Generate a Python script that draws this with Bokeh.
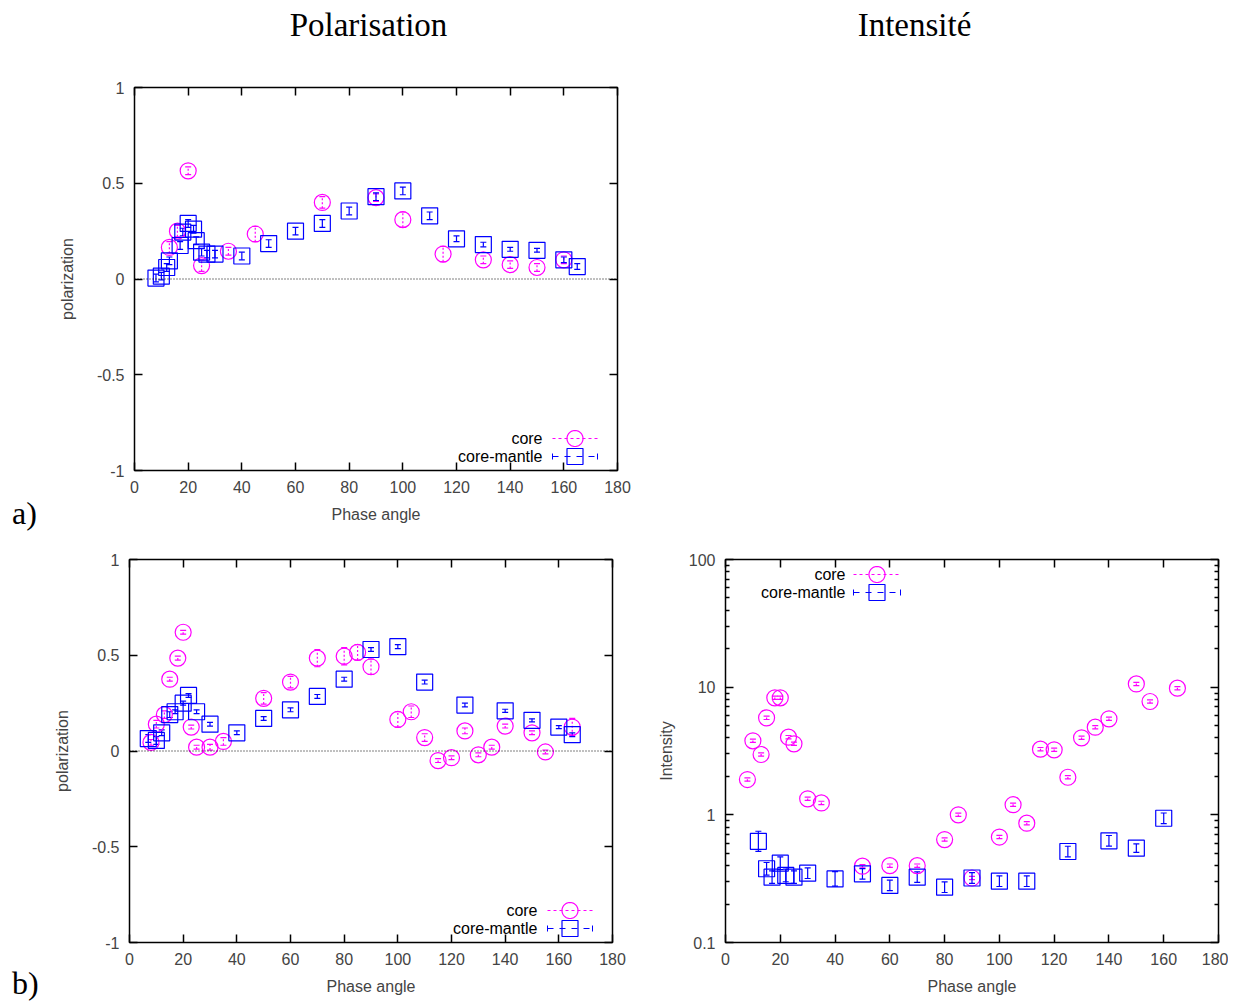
import numpy as np
from bokeh.plotting import figure
from bokeh.models import (Range1d, LinearAxis, LogAxis, FixedTicker, CustomJSTickFormatter,
                          Span, Label, Arrow, PolyAnnotation, Whisker, TeeHead, ColumnDataSource, Div)
from bokeh.core.properties import value
from bokeh.layouts import column, row
from bokeh.embed import file_html
from bokeh.resources import INLINE

SANS = "Liberation Sans"
SERIF = "Liberation Serif"
MAGENTA = "#ff00ff"
BLUE = "#0000ff"

# ---------------- data ----------------
x_ticks = [0, 20, 40, 60, 80, 100, 120, 140, 160, 180]
pol_ticks = [-1, -0.5, 0, 0.5, 1]
int_ticks = [0.1, 1, 10, 100]
int_minor = [2, 3, 4, 5, 6, 7, 8, 9]

titles = ["Polarisation", "Intensité"]
panel_tags = ["a)", "b)"]

# panel a) polarization
a_core_x = [13, 16, 20, 25, 35, 45, 70, 90, 100, 115, 130, 140, 150, 160]
a_core_y = [0.165, 0.25, 0.565, 0.07, 0.145, 0.235, 0.40, 0.425, 0.31, 0.13, 0.10, 0.075, 0.06, 0.10]
a_core_e = [0.03, 0.03, 0.02, 0.03, 0.02, 0.04, 0.03, 0.02, 0.04, 0.04, 0.02, 0.02, 0.02, 0.02]

a_cm_x = [8, 10, 12, 13, 17, 18, 20, 22, 23, 25, 27, 30, 40, 50, 60, 70, 80, 90, 100, 110, 120, 130, 140, 150, 160, 165]
a_cm_y = [0.005, 0.015, 0.06, 0.095, 0.175, 0.245, 0.29, 0.26, 0.20, 0.14, 0.13, 0.13, 0.12, 0.185,
          0.25, 0.29, 0.355, 0.43, 0.46, 0.33, 0.21, 0.18, 0.155, 0.15, 0.10, 0.065]
a_cm_e = [0.02, 0.02, 0.02, 0.02, 0.02, 0.02, 0.02, 0.02, 0.02, 0.02, 0.02, 0.02, 0.02, 0.02,
          0.02, 0.02, 0.02, 0.02, 0.02, 0.02, 0.015, 0.012, 0.01, 0.01, 0.015, 0.015]

# panel b) polarization
b_core_x = [8, 10, 13, 15, 18, 20, 23, 25, 30, 35, 50, 60, 70, 80, 85, 90, 100, 105, 110, 115, 120,
            125, 130, 135, 140, 150, 155, 165]
b_core_y = [0.045, 0.14, 0.19, 0.375, 0.485, 0.62, 0.125, 0.02, 0.02, 0.05, 0.275, 0.36, 0.485, 0.495,
            0.515, 0.44, 0.165, 0.205, 0.07, -0.05, -0.035, 0.105, -0.02, 0.02, 0.13, 0.095, -0.005, 0.125]
b_core_e = [0.015, 0.02, 0.02, 0.01, 0.01, 0.01, 0.01, 0.01, 0.015, 0.02, 0.03, 0.03, 0.045, 0.045,
            0.04, 0.04, 0.04, 0.03, 0.02, 0.01, 0.01, 0.015, 0.01, 0.01, 0.01, 0.01, 0.01, 0.045]

b_cm_x = [7, 10, 12, 15, 17, 20, 22, 25, 30, 40, 50, 60, 70, 80, 90, 100, 110, 125, 140, 150, 160, 165]
b_cm_y = [0.065, 0.055, 0.095, 0.19, 0.205, 0.25, 0.29, 0.205, 0.14, 0.095, 0.17, 0.215, 0.285, 0.375,
          0.53, 0.545, 0.36, 0.24, 0.21, 0.16, 0.125, 0.085]
b_cm_e = [0.02, 0.02, 0.015, 0.015, 0.01, 0.01, 0.01, 0.01, 0.01, 0.01, 0.01, 0.01, 0.01, 0.01,
          0.01, 0.01, 0.01, 0.01, 0.008, 0.008, 0.008, 0.01]

# panel b) intensity
c_core_x = [8, 10, 13, 15, 18, 20, 23, 25, 30, 35, 50, 60, 70, 80, 85, 90, 100, 105, 110, 115, 120,
            125, 130, 135, 140, 150, 155, 165]
c_core_y = [1.89, 3.8, 2.97, 5.75, 8.25, 8.25, 4.06, 3.6, 1.335, 1.24, 0.396, 0.40, 0.40, 0.64, 1.0,
            0.32, 0.67, 1.2, 0.86, 3.27, 3.23, 1.97, 4.01, 4.86, 5.65, 10.6, 7.72, 9.82]
c_core_e = [0.03] * 28

c_cm_x = [12, 15, 17, 20, 22, 25, 30, 40, 50, 60, 70, 80, 90, 100, 110, 125, 140, 150, 160]
c_cm_y = [0.62, 0.378, 0.325, 0.418, 0.335, 0.325, 0.349, 0.315, 0.345, 0.28, 0.325, 0.271, 0.32,
          0.302, 0.302, 0.516, 0.626, 0.548, 0.94]
c_cm_e = [0.2, 0.12, 0.12, 0.12, 0.12, 0.12, 0.1, 0.14, 0.1, 0.1, 0.1, 0.1, 0.1, 0.1, 0.1, 0.1, 0.1,
          0.08, 0.1]

# ---------------- helpers ----------------
FMT = "return tick.toString();"
NOFMT = "return '';"


def style_axis(ax, ticks, minor=None, show=True):
    ax.ticker = FixedTicker(ticks=ticks, minor_ticks=minor or [])
    ax.formatter = CustomJSTickFormatter(code=FMT if show else NOFMT)
    ax.axis_line_color = None
    ax.major_tick_in = 8
    ax.major_tick_out = 0
    ax.major_tick_line_color = "black"
    ax.major_tick_line_width = 1.5
    if minor:
        ax.minor_tick_in = 4
        ax.minor_tick_out = 0
        ax.minor_tick_line_color = "black"
        ax.minor_tick_line_width = 1.5
    else:
        ax.minor_tick_line_color = None
    ax.major_label_text_font = SANS
    ax.major_label_text_font_size = "16px"
    ax.major_label_standoff = 10 if show else 0
    ax.axis_label_text_font = SANS
    ax.axis_label_text_font_size = "16px"
    ax.axis_label_text_font_style = "normal"


def make_fig(yr, ytype, bl, br, bt, bb, fw=483, fh=383):
    p = figure(x_range=Range1d(0, 180), y_range=yr, y_axis_type=ytype,
               frame_width=fw, frame_height=fh,
               min_border_left=bl, min_border_right=br, min_border_top=bt, min_border_bottom=bb,
               output_backend="svg", toolbar_location=None)
    p.grid.visible = False
    p.outline_line_color = "black"
    p.outline_line_width = 1.5
    p.outline_line_alpha = 1
    return p


def text_fig(w, h, xs, ys_down, texts, size, align):
    """Plain canvas in pixel units that only carries texts (ys measured from the top)."""
    f = figure(frame_width=w, frame_height=h, x_range=Range1d(0, w), y_range=Range1d(0, h),
               title=None, x_axis_location=None, y_axis_location=None,
               min_border=0, min_border_left=0, min_border_right=0,
               min_border_top=0, min_border_bottom=0,
               output_backend="svg", toolbar_location=None)
    f.grid.visible = False
    f.outline_line_color = None
    f.text(x=xs, y=[h - y for y in ys_down], text=texts, text_font=value(SERIF),
           text_font_size=value(size), text_align=align, text_baseline="middle",
           text_color="black")
    return f


def tag_div(txt, w, h, pad_top):
    html = (f'<div style="padding-top:{pad_top}px;padding-left:12px;font-family:\'{SERIF}\';'
            f'font-size:32px;line-height:34px;color:black;white-space:nowrap;">{txt}</div>')
    return Div(text=html, width=w, height=h, margin=0)


def add_series(p, xs, ys, es, color, marker, dash, log=False):
    if log:
        up = [y * (1 + e) for y, e in zip(ys, es)]
        lo = [y / (1 + e) for y, e in zip(ys, es)]
    else:
        up = [y + e for y, e in zip(ys, es)]
        lo = [y - e for y, e in zip(ys, es)]
    src = ColumnDataSource(dict(x=xs, y=ys, up=up, lo=lo))
    p.add_layout(Whisker(source=src, base="x", upper="up", lower="lo", line_color=color,
                         line_width=1.2, line_dash=dash,
                         upper_head=TeeHead(size=6, line_color=color, line_width=1.2),
                         lower_head=TeeHead(size=6, line_color=color, line_width=1.2)))
    p.scatter("x", "y", source=src, marker=marker, size=16, fill_color=None,
              line_color=color, line_width=1.2)


def legend(p, xt, yc, ym, x0, x1):
    for txt, yy in (("core", yc), ("core-mantle", ym)):
        p.add_layout(Label(x=xt, y=yy, x_units="screen", y_units="screen", text=txt,
                           text_align="right", text_baseline="middle",
                           text_font=SANS, text_font_size="16px", text_color="black"))
    cx = (x0 + x1) / 2
    p.add_layout(Arrow(end=None, x_start=x0, y_start=yc, x_end=x1, y_end=yc,
                       start_units="screen", end_units="screen",
                       line_color=MAGENTA, line_dash="3 3", line_width=1))
    th = np.linspace(0, 2 * np.pi, 49)
    p.add_layout(PolyAnnotation(xs=list(cx + 8 * np.cos(th)), ys=list(yc + 8 * np.sin(th)),
                                xs_units="screen", ys_units="screen",
                                fill_color=None, fill_alpha=0, line_color=MAGENTA,
                                line_alpha=1, line_width=1.2))
    p.add_layout(Arrow(end=None, x_start=x0, y_start=ym, x_end=x1, y_end=ym,
                       start_units="screen", end_units="screen",
                       line_color=BLUE, line_dash="6 6", line_width=1))
    for xe in (x0, x1):
        p.add_layout(Arrow(end=None, x_start=xe, y_start=ym - 3, x_end=xe, y_end=ym + 3,
                           start_units="screen", end_units="screen",
                           line_color=BLUE, line_width=1))
    p.add_layout(PolyAnnotation(xs=[cx - 8, cx + 8, cx + 8, cx - 8], ys=[ym - 8, ym - 8, ym + 8, ym + 8],
                                xs_units="screen", ys_units="screen",
                                fill_color=None, fill_alpha=0, line_color=BLUE,
                                line_alpha=1, line_width=1.2))


def pol_panel(bl, br, bt, bb):
    p = make_fig(Range1d(-1, 1), "linear", bl, br, bt, bb)
    style_axis(p.xaxis[0], x_ticks)
    style_axis(p.yaxis[0], pol_ticks)
    p.xaxis[0].axis_label = "Phase angle"
    p.xaxis[0].axis_label_standoff = 10
    p.yaxis[0].axis_label = "polarization"
    p.yaxis[0].axis_label_standoff = 18
    top = LinearAxis()
    style_axis(top, x_ticks, show=False)
    p.add_layout(top, "above")
    right = LinearAxis()
    style_axis(right, pol_ticks, show=False)
    p.add_layout(right, "right")
    p.add_layout(Span(location=0, dimension="width", line_color="black", line_width=1,
                      line_dash="1 2"))
    legend(p, 408, 32, 14, 418, 463)
    return p


# ---------------- header (column titles) ----------------
header = text_fig(1230, 50, [368, 914], [24, 24], titles, "33px", "center")

# ---------------- panel a ----------------
tag_a = tag_div(panel_tags[0], 40, 488, 446)
pa = pol_panel(94, 600, 37, 68)
add_series(pa, a_core_x, a_core_y, a_core_e, MAGENTA, "circle", "2 2")
add_series(pa, a_cm_x, a_cm_y, a_cm_e, BLUE, "square", "solid")

# ---------------- panel b (polarization) ----------------
tag_b = tag_div(panel_tags[1], 40, 464, 428)
pb = pol_panel(89, 40, 21, 60)
add_series(pb, b_core_x, b_core_y, b_core_e, MAGENTA, "circle", "2 2")
add_series(pb, b_cm_x, b_cm_y, b_cm_e, BLUE, "square", "solid")

# ---------------- panel b (intensity) ----------------
pc = make_fig(Range1d(0.1, 100), "log", 73, 10, 21, 60, fw=493)
style_axis(pc.xaxis[0], x_ticks)
minor_all = [m * 10.0 ** k for k in (-1, 0, 1) for m in int_minor]
style_axis(pc.yaxis[0], int_ticks, minor=minor_all)
pc.xaxis[0].axis_label = "Phase angle"
pc.xaxis[0].axis_label_standoff = 10
pc.yaxis[0].axis_label = "Intensity"
pc.yaxis[0].axis_label_standoff = 11
topc = LinearAxis()
style_axis(topc, x_ticks, show=False)
pc.add_layout(topc, "above")
rightc = LogAxis()
style_axis(rightc, int_ticks, minor=minor_all, show=False)
pc.add_layout(rightc, "right")
add_series(pc, c_core_x, c_core_y, c_core_e, MAGENTA, "circle", "2 2", log=True)
add_series(pc, c_cm_x, c_cm_y, c_cm_e, BLUE, "square", "solid", log=True)
legend(pc, 120, 368, 350, 128, 175)

layout = column(header,
                row(tag_a, pa, spacing=0),
                row(tag_b, pb, pc, spacing=0),
                spacing=0)

open("out.html", "w").write(file_html(layout, INLINE))
